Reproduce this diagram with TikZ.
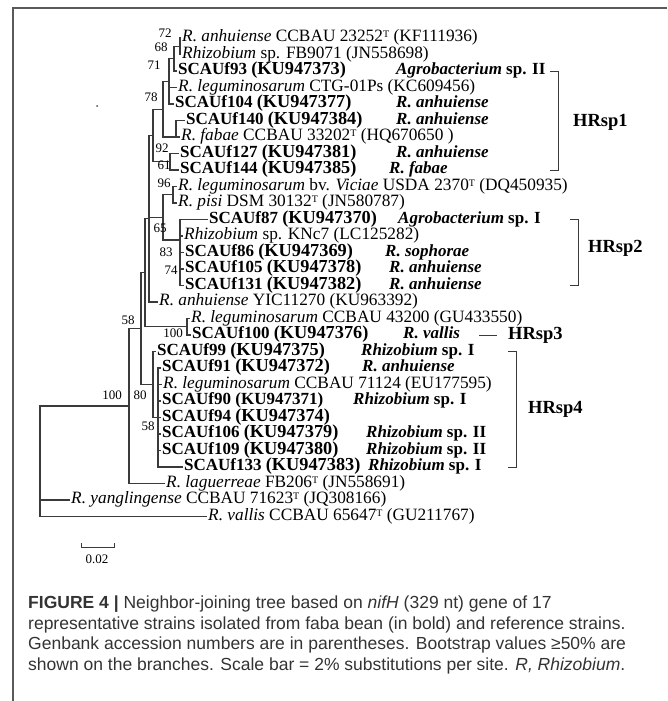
\documentclass[tikz,border=0pt]{standalone}
\usepackage{fontspec}
\setmainfont{Liberation Serif}
\newfontfamily\capfont{Liberation Sans}
\usetikzlibrary{positioning, calc}
\definecolor{branchgray}{HTML}{3A3A3A}
\definecolor{framegray}{HTML}{5A5A5A}
\definecolor{captext}{HTML}{333333}
\newcommand{\ku}[1]{{\fontsize{18.3}{16}\selectfont(#1)}}
\newcommand{\typeT}{\raisebox{0.5ex}{\fontsize{10}{10}\selectfont T}}

\begin{document}
\begin{tikzpicture}[x=1pt, y=-1pt,
            branch/.style={draw=branchgray, line width=1.1pt},
            leaf/.style={anchor=west, inner sep=1pt, text height=10.5pt, text depth=3pt,
                         font=\fontsize{17.3}{16}\selectfont},
            strain/.style={leaf, font=\fontsize{17}{16}\selectfont\bfseries},
            sp/.style={anchor=west, inner sep=0pt, text height=10.5pt, text depth=3pt,
                       font=\fontsize{17}{16}\selectfont\bfseries},
            boot/.style={inner sep=0pt, font=\fontsize{13}{13}\selectfont},
            grp/.style={anchor=west, inner sep=0pt, font=\fontsize{18.5}{20}\selectfont\bfseries},
            captxt/.style={anchor=west, inner sep=0pt, text=captext, font=\capfont\fontsize{17.5}{20}\selectfont},
        ]
            \useasboundingbox (0,0) rectangle (667,701);
            % frame of the figure
            \draw[framegray, line width=1.5pt] (667,8) -- (13,8) -- (13,701);
            \fill[black!70] (97,106) circle (1pt);

            % leaves, one per row
            \node[leaf]   (l1)  at (181,38)    {\textit{R. anhuiense} CCBAU 23252\typeT\ (KF111936)};
            \node[leaf]   (l2)  at (181,54.5)  {\textit{Rhizobium} sp. FB9071 (JN558698)};
            \node[strain] (l3)  at (177,71)    {SCAUf93 \ku{KU947373}};
            \node[leaf]   (l4)  at (177,87.5)  {\textit{R. leguminosarum} CTG-01Ps (KC609456)};
            \node[strain] (l5)  at (174,104)   {SCAUf104 \ku{KU947377}};
            \node[strain] (l6)  at (185,120.5) {SCAUf140 \ku{KU947384}};
            \node[leaf]   (l7)  at (180,137)   {\textit{R. fabae} CCBAU 33202\typeT\ (HQ670650 )};
            \node[strain] (l8)  at (179,153.5) {SCAUf127 \ku{KU947381}};
            \node[strain] (l9)  at (179,170)   {SCAUf144 \ku{KU947385}};
            \node[leaf]   (l10) at (177,186.5) {\textit{R. leguminosarum} bv. \textit{Viciae} USDA 2370\typeT\ (DQ450935)};
            \node[leaf]   (l11) at (177,203)   {\textit{R. pisi} DSM 30132\typeT\ (JN580787)};
            \node[strain] (l12) at (208,219.5) {SCAUf87 \ku{KU947370}};
            \node[leaf]   (l13) at (183,236)   {\textit{Rhizobium} sp. KNc7 (LC125282)};
            \node[strain] (l14) at (184,252.5) {SCAUf86 \ku{KU947369}};
            \node[strain] (l15) at (184,269)   {SCAUf105 \ku{KU947378}};
            \node[strain] (l16) at (184,285.5) {SCAUf131 \ku{KU947382}};
            \node[leaf]   (l17) at (158,302)   {\textit{R. anhuiense} YIC11270 (KU963392)};
            \node[leaf]   (l18) at (190,318.5) {\textit{R. leguminosarum} CCBAU 43200 (GU433550)};
            \node[strain] (l19) at (191,335)   {SCAUf100 \ku{KU947376}};
            \node[strain] (l20) at (156,351.5) {SCAUf99 \ku{KU947375}};
            \node[strain] (l21) at (161,368)   {SCAUf91 \ku{KU947372}};
            \node[leaf]   (l22) at (162,384.5) {\textit{R. leguminosarum} CCBAU 71124 (EU177595)};
            \node[strain] (l23) at (161,401)   {SCAUf90 (KU947371)};
            \node[strain] (l24) at (161,417.5) {SCAUf94 \ku{KU947374}};
            \node[strain] (l25) at (161,434)   {SCAUf106 \ku{KU947379}};
            \node[strain] (l26) at (161,450.5) {SCAUf109 \ku{KU947380}};
            \node[strain] (l27) at (183,467)   {SCAUf133 \ku{KU947383}};
            \node[leaf]   (l28) at (165,483.5) {\textit{R. laguerreae} FB206\typeT\ (JN558691)};
            \node[leaf]   (l29) at (70,500)    {\textit{R. yanglingense} CCBAU 71623\typeT\ (JQ308166)};
            \node[leaf]   (l30) at (207,516.5) {\textit{R. vallis} CCBAU 65647\typeT\ (GU211767)};

            % species names of the isolates
            \node[sp] (s3)  at (396,71)    {\textit{Agrobacterium} sp. II};
            \node[sp] (s5)  at (396,104)   {\textit{R. anhuiense}};
            \node[sp] (s6)  at (396,120.5) {\textit{R. anhuiense}};
            \node[sp] (s8)  at (396,153.5) {\textit{R. anhuiense}};
            \node[sp] (s9)  at (389,170)   {\textit{R. fabae}};
            \node[sp] (s12) at (398,219.5) {\textit{Agrobacterium} sp. I};
            \node[sp] (s14) at (385,252.5) {\textit{R. sophorae}};
            \node[sp] (s15) at (389,269)   {\textit{R. anhuiense}};
            \node[sp] (s16) at (389,285.5) {\textit{R. anhuiense}};
            \node[sp] (s19) at (403,335)   {\textit{R. vallis}};
            \node[sp] (s20) at (361,351.5) {\textit{Rhizobium} sp. I};
            \node[sp] (s21) at (362,368)   {\textit{R. anhuiense}};
            \node[sp] (s23) at (353,401)   {\textit{Rhizobium} sp. I};
            \node[sp] (s25) at (366,434)   {\textit{Rhizobium} sp. II};
            \node[sp] (s26) at (366,450.5) {\textit{Rhizobium} sp. II};
            \node[sp] (s27) at (368,467)   {\textit{Rhizobium} sp. I};

            % internal nodes
            \coordinate (n72)  at (180,46.25);
            \coordinate (n68)  at (174,58.6);
            \coordinate (n71)  at (169,81.3);
            \coordinate (nfab) at (176,137);
            \coordinate (n78)  at (163,109.2);
            \coordinate (n92)  at (170,161.75);
            \coordinate (nsp1) at (153,135.5);
            \coordinate (n96)  at (173,194.75);
            \coordinate (n65)  at (180,240);
            \coordinate (nleg) at (163,217.4);
            \coordinate (nup)  at (149,218.75);
            \coordinate (nsp3) at (187,326.75);
            \coordinate (nmid) at (145,272.75);
            \coordinate (n58b) at (158,417.5);
            \coordinate (n80)  at (153,384.5);
            \coordinate (n58)  at (141,328.6);
            \coordinate (n100) at (129,406);
            \coordinate (root) at (40,461.25);

            % branches
            \draw[branch] (n72) |- (l1.west);
            \draw[branch] (n72) |- (l2.west);
            \draw[branch] (n68) |- (n72);
            \draw[branch] (n68) |- (l3.west);
            \draw[branch] (n71) |- (n68);
            \draw[branch] (n71) |- (l4.west);
            \draw[branch] (n71) |- (l5.west);
            \draw[branch] (nfab) |- (l6.west);
            \draw[branch] (nfab) -- (l7.west);
            \draw[branch] (n78) |- (n71);
            \draw[branch] (n78) |- (nfab);
            \draw[branch] (n92) |- (l8.west);
            \draw[branch] (n92) |- (l9.west);
            \draw[branch] (nsp1) |- (n78);
            \draw[branch] (nsp1) |- (n92);
            \draw[branch] (n96) |- (l10.west);
            \draw[branch] (n96) |- (l11.west);
            \foreach \k in {l12,l13,l14,l15,l16}
                \draw[branch] (n65) |- (\k.west);
            \draw[branch] (nleg) |- (n96);
            \draw[branch] (nleg) |- (n65);
            \draw[branch] (nup) |- (nsp1);
            \draw[branch] (nup) |- (nleg);
            \draw[branch] (nup) |- (l17.west);
            \draw[branch] (nsp3) |- (l18.west);
            \draw[branch] (nsp3) |- (l19.west);
            \draw[branch] (nmid) |- (nup);
            \draw[branch] (nmid) |- (nsp3);
            \foreach \k in {l21,l22,l23,l24,l25,l26,l27}
                \draw[branch] (n58b) |- (\k.west);
            \draw[branch] (n80) |- (l20.west);
            \draw[branch] (n80) |- (n58b);
            \draw[branch] (n58) |- (nmid);
            \draw[branch] (n58) |- (n80);
            \draw[branch] (n100) |- (n58);
            \draw[branch] (n100) |- (l28.west);
            \draw[branch] (root) |- (n100);
            \draw[branch] (root) |- (l29.west);
            \draw[branch] (root) |- (l30.west);

            % bootstrap values
            \node[boot] (b72)  at (165,33)  {72};
            \node[boot] (b68)  at (161,47)  {68};
            \node[boot] (b71)  at (154,65)  {71};
            \node[boot] (b78)  at (151,97)  {78};
            \node[boot] (b92)  at (162,148) {92};
            \node[boot] (b61)  at (164,165) {61};
            \node[boot] (b96)  at (164,183) {96};
            \node[boot] (b65)  at (160,228) {65};
            \node[boot] (b83)  at (166,252) {83};
            \node[boot] (b74)  at (171,270) {74};
            \node[boot] (b58)  at (128,320) {58};
            \node[boot] (b100) at (173,333) {100};
            \node[boot] (b100r) at (112,395) {100};
            \node[boot] (b80)  at (140,395) {80};
            \node[boot] (b58b) at (148,426) {58};

            % genotype brackets
            \coordinate (g1t) at (558,71);    \coordinate (g1b) at (558,170);
            \coordinate (g2t) at (578,219.5); \coordinate (g2b) at (578,285.5);
            \coordinate (g4t) at (516,351.5); \coordinate (g4b) at (516,467);
            \draw[branch, line width=0.9pt] (g1t) ++(-8,0) -- (g1t) -- (g1b) -- ++(-8,0);
            \draw[branch, line width=0.9pt] (g2t) ++(-8,0) -- (g2t) -- (g2b) -- ++(-8,0);
            \draw[branch, line width=0.9pt] (g4t) ++(-8,0) -- (g4t) -- (g4b) -- ++(-8,0);
            \node[grp] (hr1) at (573,122)   {HRsp1};
            \node[grp] (hr2) at (588,248)   {HRsp2};
            \node[grp] (hr3) at (508,335)   {HRsp3};
            \node[grp] (hr4) at (528,409)   {HRsp4};
            \draw[branch, line width=0.9pt] (hr3.west) ++(-29,0) -- ++(18,0);

            % scale bar
            \coordinate (sbl) at (81,547);
            \coordinate (sbr) at (114,547);
            \draw[branch, line width=0.9pt] (sbl) ++(0,-4) -- ++(0,5) (sbl) -- (sbr) ++(0,-4) -- ++(0,5);
            \node[boot] (sbt) at (97,559) {0.02};

            % caption
            \node[captxt] (cap1) at (28,604)   {\textbf{FIGURE 4 |} Neighbor-joining tree based on \textit{nifH} (329 nt) gene of 17};
            \node[captxt] (cap2) at (28,624.5) {representative strains isolated from faba bean (in bold) and reference strains.};
            \node[captxt] (cap3) at (28,645)   {Genbank accession numbers are in parentheses. Bootstrap values ≥50\% are};
            \node[captxt] (cap4) at (28,665.5) {shown on the branches. Scale bar = 2\% substitutions per site. \textit{R, Rhizobium}.};
        \end{tikzpicture}
\end{document}
